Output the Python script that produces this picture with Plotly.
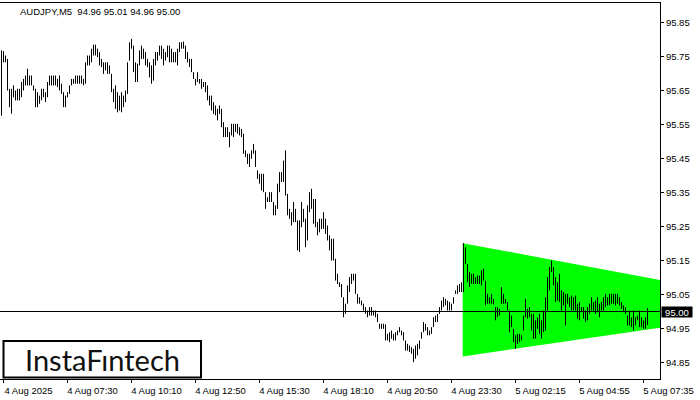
import plotly.graph_objects as go

# ---- data (AUDJPY M5, bar highs / lows) ----
bar_high = [
    95.768,
    # 4 Aug 04:50 ...
    95.766, 95.753, 95.743, 95.655, 95.655, 95.665, 95.650, 95.655, 95.655, 95.675,
    95.684, 95.694, 95.714, 95.694, 95.694, 95.665, 95.655, 95.645, 95.635, 95.655,
    95.655, 95.645, 95.675, 95.694, 95.694, 95.694, 95.694, 95.684, 95.694, 95.670,
    95.645, 95.635, 95.645, 95.665, 95.684, 95.684, 95.694, 95.694, 95.694, 95.694,
    95.684, 95.733, 95.753, 95.753, 95.773, 95.785, 95.785, 95.773, 95.763, 95.743,
    95.733, 95.733, 95.733, 95.724, 95.699, 95.655, 95.665, 95.645, 95.635, 95.645,
    95.635, 95.650, 95.733, 95.792, 95.802, 95.782, 95.733, 95.729, 95.768, 95.782,
    95.773, 95.763, 95.743, 95.733, 95.724, 95.743, 95.763, 95.763, 95.782, 95.782,
    95.773, 95.763, 95.782, 95.782, 95.773, 95.763, 95.763, 95.773, 95.792, 95.792,
    95.794, 95.782, 95.763, 95.743,
    95.743, 95.704, 95.684, 95.704, 95.684, 95.684, 95.675, 95.675, 95.665, 95.635,
    95.635, 95.616, 95.606, 95.596, 95.606, 95.596, 95.557, 95.542, 95.542, 95.528,
    95.552, 95.552, 95.552, 95.552, 95.542, 95.537, 95.523, 95.474, 95.464, 95.464,
    95.474, 95.493, 95.474, 95.415, 95.405, 95.405, 95.405, 95.351, 95.336, 95.351,
    95.351, 95.322, 95.312, 95.376, 95.410, 95.410, 95.444, 95.474, 95.346, 95.302,
    95.292, 95.322, 95.302, 95.268, 95.268, 95.322, 95.302, 95.273, 95.312, 95.351,
    95.361, 95.331, 95.331, 95.263, 95.273, 95.273, 95.292, 95.273, 95.253, 95.224,
    95.214, 95.214, 95.155, 95.111, 95.086, 95.081, 95.042, 95.023, 95.077, 95.101,
    95.111, 95.111, 95.111, 95.052, 95.042, 95.032, 95.023, 95.013, 95.003, 95.013,
    95.013, 95.003, 95.003, 94.993, 94.964, 94.964, 94.964,
    94.962, 94.934, 94.939, 94.944, 94.934, 94.939, 94.944, 94.954, 94.944, 94.939,
    94.915, 94.905, 94.900, 94.895, 94.890, 94.900, 94.905, 94.915, 94.939, 94.969,
    94.964, 94.954, 94.944, 94.954, 94.983, 94.988, 94.993, 95.013, 95.032, 95.042,
    95.037, 95.032, 95.028, 95.023, 95.042, 95.062, 95.077, 95.081, 95.086, 95.201,
    95.189, 95.140, 95.116,
    95.111, 95.111, 95.101, 95.106, 95.106, 95.121, 95.126, 95.091, 95.052, 95.042,
    95.052, 95.037, 95.013, 95.013, 95.008, 95.072, 95.052, 95.037, 95.028, 95.003,
    94.988, 94.949, 94.930, 94.934, 94.934, 94.930, 94.988, 95.037, 95.008, 95.013,
    94.993, 94.993, 94.974, 94.983, 94.993, 94.974, 95.003, 95.042, 95.101, 95.131,
    95.150, 95.131, 95.101, 95.086, 95.111, 95.062, 95.057, 95.052, 95.052, 95.042,
    95.047, 95.042, 95.047, 95.023, 95.028, 95.013, 95.013, 95.003, 95.013, 95.023,
    95.042, 95.028, 95.032, 95.042, 95.023, 95.028, 95.042, 95.052, 95.042, 95.052,
    95.052, 95.052, 95.052, 95.052, 95.042, 95.028, 95.018, 95.013, 94.988, 95.003,
    94.983, 95.003, 94.983, 94.988, 95.003, 94.983, 94.974, 94.983, 95.010,
]

bar_low = [
    95.576,
    95.733, 95.733, 95.650, 95.601, 95.582, 95.630, 95.621, 95.621, 95.621, 95.630,
    95.650, 95.665, 95.665, 95.665, 95.665, 95.650, 95.601, 95.601, 95.611, 95.621,
    95.630, 95.616, 95.630, 95.665, 95.665, 95.665, 95.665, 95.660, 95.650, 95.640,
    95.601, 95.601, 95.630, 95.640, 95.665, 95.670, 95.670, 95.670, 95.670, 95.670,
    95.665, 95.670, 95.724, 95.724, 95.733, 95.753, 95.753, 95.748, 95.724, 95.719,
    95.699, 95.709, 95.699, 95.699, 95.645, 95.616, 95.596, 95.586, 95.591, 95.586,
    95.601, 95.616, 95.640, 95.738, 95.773, 95.704, 95.675, 95.675, 95.724, 95.743,
    95.743, 95.724, 95.719, 95.689, 95.670, 95.679, 95.724, 95.738, 95.753, 95.743,
    95.724, 95.738, 95.748, 95.733, 95.733, 95.733, 95.733, 95.724, 95.763, 95.773,
    95.773, 95.743, 95.733, 95.719,
    95.704, 95.684, 95.665, 95.675, 95.670, 95.655, 95.660, 95.645, 95.621, 95.606,
    95.591, 95.581, 95.577, 95.562, 95.581, 95.542, 95.513, 95.513, 95.513, 95.483,
    95.518, 95.513, 95.528, 95.523, 95.518, 95.513, 95.464, 95.454, 95.434, 95.425,
    95.449, 95.464, 95.425, 95.390, 95.376, 95.356, 95.351, 95.302, 95.322, 95.322,
    95.322, 95.283, 95.283, 95.302, 95.351, 95.381, 95.381, 95.341, 95.283, 95.273,
    95.253, 95.263, 95.263, 95.180, 95.175, 95.248, 95.263, 95.189, 95.209, 95.292,
    95.302, 95.258, 95.248, 95.224, 95.233, 95.243, 95.243, 95.228, 95.209, 95.180,
    95.150, 95.150, 95.091, 95.081, 95.072, 95.042, 94.983, 94.993, 95.023, 95.057,
    95.081, 95.091, 95.052, 95.023, 95.023, 95.018, 95.003, 94.993, 94.983, 94.988,
    94.988, 94.988, 94.983, 94.969, 94.949, 94.949, 94.949,
    94.915, 94.915, 94.910, 94.920, 94.915, 94.915, 94.930, 94.939, 94.930, 94.915,
    94.885, 94.885, 94.881, 94.876, 94.851, 94.861, 94.871, 94.890, 94.920, 94.939,
    94.944, 94.930, 94.930, 94.934, 94.954, 94.969, 94.969, 94.993, 95.003, 95.013,
    95.018, 95.003, 95.003, 95.003, 95.023, 95.052, 95.052, 95.057, 95.057, 95.057,
    95.140, 95.086, 95.072,
    95.081, 95.081, 95.081, 95.081, 95.081, 95.077, 95.091, 95.018, 95.023, 95.023,
    95.023, 95.021, 94.974, 94.983, 94.988, 95.023, 95.023, 95.023, 95.003, 94.939,
    94.954, 94.910, 94.890, 94.905, 94.910, 94.915, 94.944, 94.983, 94.979, 94.983,
    94.944, 94.920, 94.920, 94.949, 94.934, 94.920, 94.939, 94.944, 95.003, 95.062,
    95.116, 95.077, 95.028, 95.032, 95.028, 95.003, 95.018, 94.959, 95.023, 95.013,
    95.003, 95.003, 95.003, 94.979, 94.974, 94.998, 94.979, 94.969, 94.974, 94.993,
    95.003, 95.003, 94.993, 94.998, 94.983, 95.003, 95.003, 95.013, 95.018, 95.018,
    95.023, 95.023, 95.018, 95.023, 95.018, 95.008, 94.998, 94.993, 94.959, 94.959,
    94.954, 94.944, 94.959, 94.974, 94.954, 94.954, 94.949, 94.949, 94.960,
]

time_tick_bars = [1, 33, 65, 97, 129, 161, 193, 225, 257, 289, 321]
time_tick_labels = ["4 Aug 2025", "4 Aug 07:30", "4 Aug 10:10", "4 Aug 12:50",
                    "4 Aug 15:30", "4 Aug 18:10", "4 Aug 20:50", "4 Aug 23:30",
                    "5 Aug 02:15", "5 Aug 04:55", "5 Aug 07:35"]

price_ticks = [94.85, 94.95, 95.05, 95.15, 95.25, 95.35, 95.45, 95.55, 95.65, 95.75, 95.85]
current_price = 95.00
title_text = "AUDJPY,M5\u00a0\u00a094.96 95.01 94.96 95.00"

# symmetrical triangle pattern (bar position, price)
pattern_x = [230.6, 329.25, 329.25, 230.6]
pattern_y = [95.201, 95.093, 94.952, 94.868]

X_RANGE = [-0.75, 329.25]
Y_RANGE = [94.8015, 95.9074]

FONT = "Liberation Sans"

# ---- build figure ----
fig = go.Figure()

fig.add_trace(go.Scatter(
    x=pattern_x + [pattern_x[0]], y=pattern_y + [pattern_y[0]],
    fill="toself", fillcolor="#00ff00", mode="lines",
    line=dict(width=0, color="#00ff00"), hoverinfo="skip", showlegend=False,
))

xs, ys = [], []
for k, (h, l) in enumerate(zip(bar_high, bar_low)):
    xs += [k, k, None]
    ys += [h, l, None]
fig.add_trace(go.Scatter(
    x=xs, y=ys, mode="lines", line=dict(color="black", width=1),
    hoverinfo="skip", showlegend=False,
))

fig.add_shape(type="line", xref="paper", x0=0, x1=1, yref="y",
              y0=current_price, y1=current_price,
              line=dict(color="black", width=1), layer="above")

fig.add_annotation(x=1, xref="paper", xanchor="left", xshift=1,
                   y=current_price, yref="y", yanchor="middle",
                   text=f"{current_price:.2f}", showarrow=False,
                   bgcolor="black", font=dict(color="white", size=9.5, family=FONT),
                   width=30, height=10, borderpad=0)

fig.add_annotation(x=18 / 660, xref="paper", xanchor="left",
                   y=(379 - 11) / 376, yref="paper", yanchor="middle",
                   text=title_text, showarrow=False,
                   font=dict(color="black", size=9.5, family=FONT))

# logo box
fig.add_shape(type="rect", xref="paper", yref="paper",
              x0=3.5 / 660, x1=201 / 660, y0=(379 - 377.5) / 376, y1=(379 - 341) / 376,
              fillcolor="white", line=dict(color="black", width=2), layer="above")
fig.add_annotation(x=102 / 660, xref="paper", xanchor="center",
                   y=(379 - 359) / 376, yref="paper", yanchor="middle",
                   text="InstaF\u0131ntech", showarrow=False,
                   font=dict(color="#111111", size=29, family="Lato"))

fig.update_xaxes(range=X_RANGE, showgrid=False, zeroline=False, automargin=False,
                 showline=True, linecolor="black", linewidth=1, mirror=True,
                 ticks="outside", ticklen=3, tickcolor="black", tickwidth=1,
                 tickvals=time_tick_bars, ticktext=time_tick_labels,
                 ticklabelshift=25, ticklabelstandoff=0,
                 tickfont=dict(color="black", size=9.5, family=FONT))
fig.update_yaxes(range=Y_RANGE, side="right", showgrid=False, zeroline=False,
                 automargin=False,
                 showline=True, linecolor="black", linewidth=1,
                 ticks="outside", ticklen=3, tickcolor="black", tickwidth=1,
                 tickvals=price_ticks, ticktext=[f"{v:.2f}" for v in price_ticks],
                 ticklabelstandoff=0,
                 tickfont=dict(color="black", size=9.5, family=FONT))

fig.update_layout(width=700, height=400, margin=dict(l=0, r=40, t=3, b=21),
                  plot_bgcolor="white", paper_bgcolor="white", showlegend=False)

fig.write_html("out.html", config={"displayModeBar": False},
               post_script="document.body.style.margin='0';document.body.style.overflow='hidden';")
